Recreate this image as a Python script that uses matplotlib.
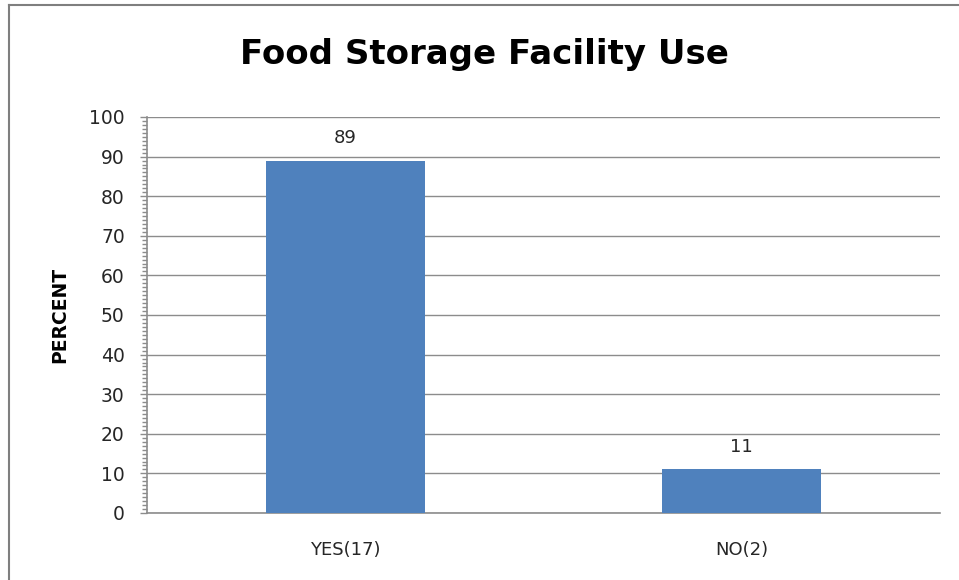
import matplotlib
matplotlib.use('Agg')
import matplotlib.pyplot as plt
from matplotlib.ticker import MultipleLocator
from matplotlib.lines import Line2D

# 数据
categories = ['YES(17)', 'NO(2)']
percent = [89, 11]
yticks = list(range(0, 101, 10))

bar_color = '#4F81BD'
grid_color = '#8C8C8C'
text_color = '#262626'

fig = plt.figure(figsize=(9.59, 5.80), dpi=100)
ax = fig.add_axes([147 / 959, 67 / 580, 793 / 959, 396 / 580])

x = list(range(len(categories)))
bars = ax.bar(x, percent, width=0.4, color=bar_color, zorder=3)

ax.set_xlim(-0.5, len(categories) - 0.5)
ax.set_ylim(0, 100)
ax.set_yticks(yticks)
ax.yaxis.set_minor_locator(MultipleLocator(1))
ax.set_xticks(x)
ax.set_xticklabels(categories, fontsize=13, color=text_color)
ax.tick_params(axis='x', length=0, pad=20)
ax.tick_params(axis='y', which='major', length=5, width=1, color=grid_color,
               labelsize=13.5, labelcolor=text_color, pad=11)
ax.tick_params(axis='y', which='minor', length=3.6, width=1, color=grid_color)

ax.grid(axis='y', which='major', color=grid_color, linewidth=1, zorder=0)
for s in ['top', 'right']:
    ax.spines[s].set_visible(False)
for s in ['left', 'bottom']:
    ax.spines[s].set_color(grid_color)
    ax.spines[s].set_linewidth(1.2)

# 数据标签
for xi, v in zip(x, percent):
    ax.annotate(str(v), (xi, v), xytext=(0, 10), textcoords='offset points',
                ha='center', va='bottom', fontsize=13, color=text_color)

fig.text(60 / 959, 1 - 315 / 580, 'PERCENT', rotation=90, ha='center', va='center',
         fontsize=13.5, fontweight='bold', color='black')
fig.text(484 / 959, 1 - 64 / 580, 'Food Storage Facility Use', ha='center',
         va='baseline', fontsize=24.5, fontweight='bold', color='black')

# 外框（左、上）
fig.add_artist(Line2D([8.5 / 959, 8.5 / 959], [0, 1 - 5 / 580], transform=fig.transFigure,
                      color='#7F7F7F', linewidth=1.5))
fig.add_artist(Line2D([8.5 / 959, 1], [1 - 5 / 580, 1 - 5 / 580], transform=fig.transFigure,
                      color='#7F7F7F', linewidth=1.5))

fig.savefig('out.png', dpi=100)
